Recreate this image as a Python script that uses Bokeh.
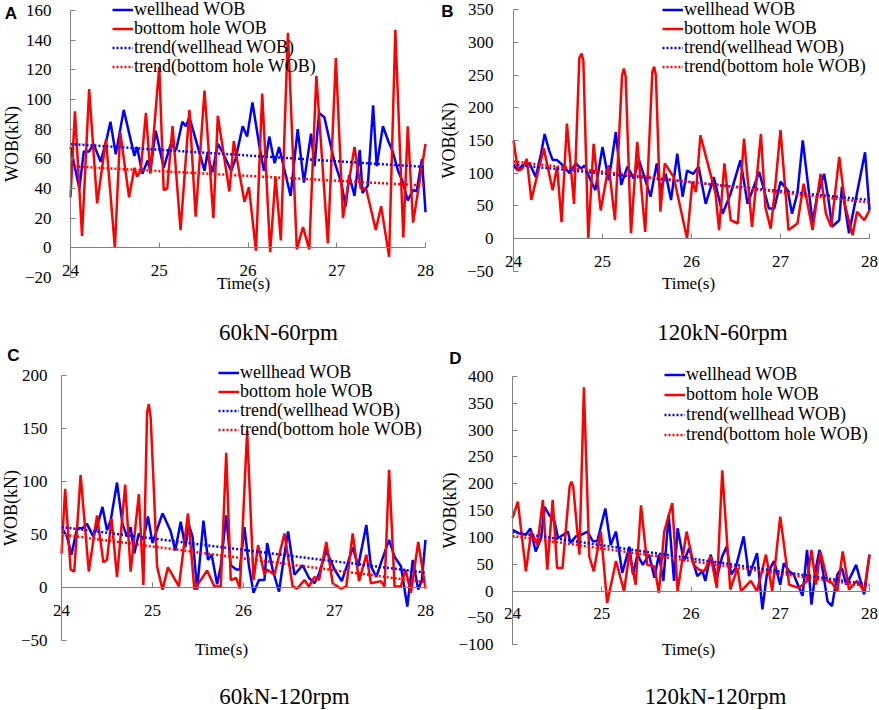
from bokeh.plotting import figure
from bokeh.models import LinearAxis, SingleIntervalTicker, Range1d, Label, Legend, LegendItem
from bokeh.layouts import column, row
from bokeh.embed import file_html
from bokeh.resources import INLINE

BLUE = "#0000FF"
RED = "#FF0000"
AXIS = "#808080"
FONT = "Liberation Serif"

SERIES_NAMES = ["wellhead WOB", "bottom hole WOB", "trend(wellhead WOB)", "trend(bottom hole WOB)"]
Y_TITLE = "WOB(kN)"
X_TITLE = "Time(s)"
TREND_T = [24, 28]
X_TICKS = (24, 28)

# ---------------- Panel A : 60kN-60rpm ----------------
A_T_WELL = [24.0, 24.1, 24.15, 24.21, 24.26, 24.34, 24.41, 24.45, 24.51, 24.6, 24.72, 24.75, 24.81, 24.87,
            24.9, 24.96, 25.05, 25.13, 25.19, 25.26, 25.3, 25.34, 25.51, 25.54, 25.6, 25.66, 25.71, 25.81,
            25.86, 25.94, 25.99, 26.05, 26.13, 26.18, 26.24, 26.3, 26.35, 26.48, 26.56, 26.63, 26.71, 26.75,
            26.8, 26.86, 26.97, 27.05, 27.1, 27.14, 27.2, 27.26, 27.29, 27.35, 27.41, 27.45, 27.52, 27.58,
            27.63, 27.69, 27.74, 27.8, 27.86, 27.9, 27.96, 28.0]
A_WELL = [68, 40, 65, 65, 70, 58, 74, 85, 63, 93, 62, 68, 50, 59,
          52, 79, 54, 70, 66, 85, 82, 88, 52, 63, 51, 70, 65, 52,
          60, 82, 75, 98, 68, 52, 75, 57, 68, 35, 80, 44, 77, 55,
          91, 88, 59, 44, 28, 49, 35, 66, 37, 42, 96, 55, 82, 72,
          65, 52, 45, 32, 39, 38, 60, 24]
A_T_BOTTOM = [24.0, 24.05, 24.13, 24.21, 24.3, 24.4, 24.5, 24.56, 24.66, 24.72, 24.75, 24.79, 24.85, 24.9,
              25.0, 25.05, 25.09, 25.15, 25.24, 25.34, 25.41, 25.51, 25.61, 25.66, 25.79, 25.84, 25.96,
              26.01, 26.09, 26.16, 26.25, 26.31, 26.37, 26.45, 26.55, 26.62, 26.69, 26.77, 26.9, 26.99,
              27.07, 27.2, 27.27, 27.33, 27.44, 27.5, 27.59, 27.66, 27.75, 27.8, 27.86, 28.0]
A_BOTTOM = [34, 92, 8, 107, 30, 73, 0, 78, 34, 54, 48, 52, 91, 50,
            122, 39, 40, 82, 12, 93, 21, 106, 20, 89, 38, 72, 31,
            41, -2, 104, -3, 48, 5, 145, -1, 14, -1, 116, 3, 128,
            20, 68, 40, 40, 12, 28, -6, 147, 7, 82, 17, 70]
A_TREND_WELL = [70, 54.5]
A_TREND_BOTTOM = [55, 42]

# ---------------- Panel B : 120kN-60rpm ----------------
B_T_WELL = [24.0, 24.05, 24.1, 24.18, 24.25, 24.31, 24.35, 24.4, 24.44, 24.49, 24.57, 24.63, 24.7, 24.76,
            24.8, 24.85, 24.92, 25.0, 25.07, 25.15, 25.21, 25.28, 25.35, 25.41, 25.54, 25.61, 25.65, 25.71,
            25.77, 25.84, 25.9, 25.95, 26.02, 26.08, 26.16, 26.25, 26.35, 26.44, 26.55, 26.63, 26.76, 26.87,
            26.93, 27.0, 27.08, 27.13, 27.19, 27.25, 27.36, 27.41, 27.49, 27.54, 27.58, 27.66, 27.69, 27.77,
            27.86, 27.95, 28.0]
B_WELL = [112, 104, 112, 115, 94, 130, 160, 135, 120, 120, 110, 100, 115, 107,
          112, 94, 74, 140, 89, 163, 82, 110, 92, 120, 64, 115, 74, 99,
          59, 130, 64, 104, 99, 110, 53, 94, 38, 69, 120, 53, 102, 46,
          46, 87, 74, 38, 69, 150, 25, 64, 99, 59, 18, 28, 79, 8,
          70, 132, 43]
B_T_BOTTOM = [24.0, 24.05, 24.1, 24.15, 24.2, 24.29, 24.34, 24.44, 24.49, 24.54, 24.6, 24.68, 24.74, 24.765,
              24.785, 24.84, 24.9, 24.98, 25.07, 25.14, 25.22, 25.24, 25.26, 25.32, 25.39, 25.48, 25.56,
              25.58, 25.6, 25.65, 25.7, 25.8, 25.95, 26.01, 26.05, 26.1, 26.27, 26.31, 26.37, 26.44, 26.52,
              26.59, 26.68, 26.78, 26.83, 26.89, 26.93, 27.0, 27.09, 27.19, 27.26, 27.36, 27.45, 27.51,
              27.57, 27.66, 27.73, 27.81, 27.86, 27.94, 28.0]
B_BOTTOM = [150, 104, 107, 122, 59, 110, 138, 74, 110, 25, 176, 53, 276, 283,
            272, 0, 145, 43, 112, 28, 250, 260, 248, 8, 148, 10, 255,
            263, 250, 41, 115, 94, 0, 87, 71, 158, 69, 13, 115, 28, 23,
            153, 18, 160, 48, 15, 64, 166, 13, 23, 84, 13, 99, 38,
            18, 125, 48, 5, 41, 28, 43]
B_TREND_WELL = [113, 59]
B_TREND_BOTTOM = [118, 55]

# ---------------- Panel C : 60kN-120rpm ----------------
C_T_WELL = [24.0, 24.06, 24.11, 24.17, 24.23, 24.28, 24.35, 24.39, 24.45, 24.5, 24.54, 24.61, 24.67, 24.72,
            24.76, 24.8, 24.85, 24.9, 24.95, 25.0, 25.11, 25.2, 25.25, 25.31, 25.36, 25.4, 25.44, 25.49,
            25.56, 25.61, 25.65, 25.71, 25.75, 25.81, 25.86, 25.92, 25.96, 26.01, 26.06, 26.11, 26.17, 26.23,
            26.26, 26.32, 26.39, 26.43, 26.49, 26.56, 26.65, 26.72, 26.78, 26.83, 26.91, 27.0, 27.08, 27.15,
            27.2, 27.26, 27.35, 27.4, 27.46, 27.51, 27.6, 27.66, 27.73, 27.8, 27.86, 27.92, 27.96, 28.0]
C_WELL = [57, 48, 31, 56, 56, 60, 48, 57, 76, 54, 63, 99, 60, 48,
          57, 32, 51, 45, 67, 42, 70, 53, 35, 62, 38, 59, 48, -2,
          63, 26, 31, 3, 20, 68, 21, 17, 17, 57, 20, -5, 7, 7,
          42, 17, -4, 20, 53, 12, 21, 9, 4, 13, 35, 17, 6, 24,
          38, 20, 59, 20, 10, 23, 45, 29, 20, -18, 26, -2, 7, 45]
C_T_BOTTOM = [24.0, 24.04, 24.1, 24.14, 24.21, 24.3, 24.39, 24.46, 24.5, 24.55, 24.61, 24.7, 24.76, 24.85,
              24.9, 24.94, 24.96, 24.98, 25.02, 25.05, 25.11, 25.17, 25.23, 25.29, 25.39, 25.46, 25.53, 25.6,
              25.68, 25.75, 25.81, 25.86, 25.92, 25.96, 26.04, 26.11, 26.16, 26.23, 26.26, 26.34, 26.45,
              26.54, 26.59, 26.67, 26.72, 26.78, 26.83, 26.91, 26.98, 27.07, 27.13, 27.2, 27.27, 27.35,
              27.4, 27.51, 27.55, 27.6, 27.66, 27.73, 27.78, 27.84, 27.92, 28.0]
C_BOTTOM = [32, 93, 17, 15, 106, 15, 68, 24, 26, 65, 10, 97, 15, 88,
            2.5, 165, 173, 160, 82, 20, -2, 19, 10, 1, 70, -2, 7, 16,
            1, 1, 127, 7, 9, -1, 148, 7, 40, 12, 17, 12, 51,
            1, -1, 7, 1, 10, 7, 43, 4, -1, 1, 51, 6, 31,
            4, 6, 1, 111, 1, 1, 17, -5, 43, -1]
C_TREND_WELL = [57, 14]
C_TREND_BOTTOM = [50, 5]

# ---------------- Panel D : 120kN-120rpm ----------------
D_T_WELL = [24.0, 24.07, 24.15, 24.2, 24.26, 24.32, 24.36, 24.41, 24.47, 24.51, 24.57, 24.62, 24.65, 24.71,
            24.77, 24.84, 24.9, 24.95, 25.04, 25.1, 25.16, 25.23, 25.31, 25.35, 25.4, 25.46, 25.53, 25.59,
            25.64, 25.69, 25.75, 25.81, 25.85, 25.92, 25.98, 26.07, 26.13, 26.16, 26.22, 26.29, 26.35, 26.4,
            26.45, 26.5, 26.59, 26.65, 26.74, 26.8, 26.85, 26.93, 27.0, 27.04, 27.1, 27.15, 27.25, 27.3,
            27.35, 27.4, 27.44, 27.53, 27.58, 27.64, 27.69, 27.74, 27.79, 27.85, 27.94, 28.0]
D_WELL = [114, 108, 105, 117, 74, 99, 157, 142, 130, 99, 105, 111, 90, 102,
          105, 111, 93, 93, 154, 86, 111, 34, 83, 31, 68, 49, 68, 25,
          68, 19, 142, 19, 117, 56, 80, 28, 37, 19, 68, 25, 65, 83,
          31, 43, 102, 28, 71, -34, 31, 56, 12, 52, 37, 31, -9, 77,
          -25, 43, 77, -19, -28, 31, 43, 12, 28, 49, -6, 68]
D_T_BOTTOM = [24.0, 24.06, 24.15, 24.21, 24.28, 24.34, 24.39, 24.45, 24.5, 24.56, 24.64, 24.66, 24.68, 24.75,
              24.8, 24.86, 24.91, 24.99, 25.06, 25.16, 25.25, 25.31, 25.38, 25.44, 25.51, 25.59, 25.64, 25.7,
              25.79, 25.85, 25.95, 26.03, 26.09, 26.15, 26.22, 26.29, 26.35, 26.44, 26.52, 26.56, 26.67,
              26.74, 26.84, 26.91, 27.0, 27.1, 27.21, 27.3, 27.35, 27.4, 27.45, 27.53, 27.58, 27.64, 27.7,
              27.77, 27.86, 27.94, 28.0]
D_BOTTOM = [136, 167, 37, 111, 86, 170, 40, 170, 43, 43, 195, 204, 195, 68,
            380, 65, 37, 111, -22, 56, 0, 71, 12, 160, 49, 46, -3, 111,
            164, 0, 111, 49, 40, 37, 65, 6, 225, 3, 43, 0, 19,
            0, 68, 0, 139, 12, 6, 19, 77, 12, 74, 19, 15, 0, 74,
            3, 19, 0, 68]
D_TREND_WELL = [110, 12]
D_TREND_BOTTOM = [103, 9]


def make_panel(letter, subtitle, yr, ystep, t_w, w, t_b, b, tr_w, tr_b, g):
    W, H = g["W"], g["H"]
    x24, x28, ytop, ybot = g["x24"], g["x28"], g["ytop"], g["ybot"]
    ylo, yhi = yr
    sx = (x28 - x24) / (X_TICKS[1] - X_TICKS[0])
    sy = (ybot - ytop) / (yhi - ylo)
    x0 = X_TICKS[0] - x24 / sx
    x1 = X_TICKS[1] + (W - x28) / sx
    y1 = yhi + ytop / sy
    y0 = ylo - (H - ybot) / sy

    def dx(px):
        return x0 + px / sx

    def dy(py):
        return y1 - py / sy

    p = figure(width=W, height=H, x_range=Range1d(x0, x1), y_range=Range1d(y0, y1),
               output_backend="svg", toolbar_location=None, title_location=None,
               x_axis_location=None, y_axis_location=None,
               min_border_left=0, min_border_right=0, min_border_top=0, min_border_bottom=0)
    p.outline_line_color = None
    p.background_fill_color = "white"
    p.border_fill_color = "white"
    p.grid.visible = False

    yax = LinearAxis(ticker=SingleIntervalTicker(interval=ystep), axis_label=Y_TITLE,
                     fixed_location=X_TICKS[0], bounds=(ylo, yhi))
    xax = LinearAxis(ticker=SingleIntervalTicker(interval=1), fixed_location=0, bounds=X_TICKS)
    for ax in (yax, xax):
        ax.axis_line_color = AXIS
        ax.axis_line_width = 1
        ax.major_tick_line_color = AXIS
        ax.major_tick_in = 5
        ax.major_tick_out = 0
        ax.minor_tick_line_color = None
        ax.major_label_text_font = FONT
        ax.major_label_text_font_size = "17px"
        ax.major_label_text_color = "black"
    yax.major_label_standoff = g["mls"]
    yax.axis_label_standoff = g["als"]
    yax.axis_label_text_font = FONT
    yax.axis_label_text_font_size = "18px"
    yax.axis_label_text_font_style = "normal"
    yax.axis_label_text_color = "black"
    xax.major_label_standoff = 13
    p.add_layout(yax, "left")
    p.add_layout(xax, "below")

    r_w = p.line(t_w, w, line_color=BLUE, line_width=2.5)
    r_b = p.line(t_b, b, line_color=RED, line_width=2.5)
    r_tw = p.line(TREND_T, tr_w, line_color=BLUE, line_width=2.5, line_dash="2 2")
    r_tb = p.line(TREND_T, tr_b, line_color=RED, line_width=2.5, line_dash="2 2")

    half_item = 10.35
    for name, rend, yc in zip(SERIES_NAMES, [r_w, r_b, r_tw, r_tb], g["rows"]):
        legend = Legend(items=[LegendItem(label=name, renderers=[rend])],
                        location=(g["legx"], H - yc - half_item),
                        background_fill_alpha=0, border_line_alpha=0,
                        padding=0, margin=0, spacing=0, glyph_width=21, glyph_height=17,
                        label_height=17, label_standoff=1, label_text_font=FONT,
                        label_text_font_size="18px", label_text_color="black")
        p.add_layout(legend)

    p.add_layout(Label(x=dx(g["xt"][0]), y=dy(g["xt"][1]), text=X_TITLE,
                       text_font=FONT, text_font_size="17px", text_align="center",
                       text_baseline="middle", text_color="black"))
    p.add_layout(Label(x=dx(g["st"][0]), y=dy(g["st"][1]), text=subtitle,
                       text_font=FONT, text_font_size="23px", text_align="center",
                       text_baseline="middle", text_color="black"))
    p.add_layout(Label(x=dx(g["lt"][0]), y=dy(g["lt"][1]), text=letter,
                       text_font="Liberation Sans", text_font_style="bold", text_font_size="17px",
                       text_align="center", text_baseline="middle", text_color="black"))
    return p


GEO_A = dict(W=440, H=346, x24=70, x28=425, ytop=10, ybot=277, mls=15, als=0,
             legx=112, rows=(10, 29, 48, 67), xt=(243, 283), st=(278, 332), lt=(10.5, 12.5))
GEO_B = dict(W=438, H=346, x24=73, x28=429, ytop=9.3, ybot=270.7, mls=16, als=5,
             legx=222, rows=(10, 29, 48, 67), xt=(248, 283), st=(282, 332), lt=(7, 11))
GEO_C = dict(W=440, H=363, x24=61, x28=425, ytop=29, ybot=294, mls=10, als=-3,
             legx=218, rows=(27, 46, 65, 84), xt=(221, 303), st=(284, 350), lt=(13, 9))
GEO_D = dict(W=438, H=363, x24=72, x28=429, ytop=30, ybot=298.3, mls=15, als=-5,
             legx=224, rows=(29, 49, 69, 89), xt=(248, 303), st=(275, 350), lt=(15, 12))

pA = make_panel("A", "60kN-60rpm", (-20, 160), 20, A_T_WELL, A_WELL, A_T_BOTTOM, A_BOTTOM,
                A_TREND_WELL, A_TREND_BOTTOM, GEO_A)
pB = make_panel("B", "120kN-60rpm", (-50, 350), 50, B_T_WELL, B_WELL, B_T_BOTTOM, B_BOTTOM,
                B_TREND_WELL, B_TREND_BOTTOM, GEO_B)
pC = make_panel("C", "60kN-120rpm", (-50, 200), 50, C_T_WELL, C_WELL, C_T_BOTTOM, C_BOTTOM,
                C_TREND_WELL, C_TREND_BOTTOM, GEO_C)
pD = make_panel("D", "120kN-120rpm", (-100, 400), 50, D_T_WELL, D_WELL, D_T_BOTTOM, D_BOTTOM,
                D_TREND_WELL, D_TREND_BOTTOM, GEO_D)

layout = column(row(pA, pB), row(pC, pD))
open("out.html", "w").write(file_html(layout, INLINE))
